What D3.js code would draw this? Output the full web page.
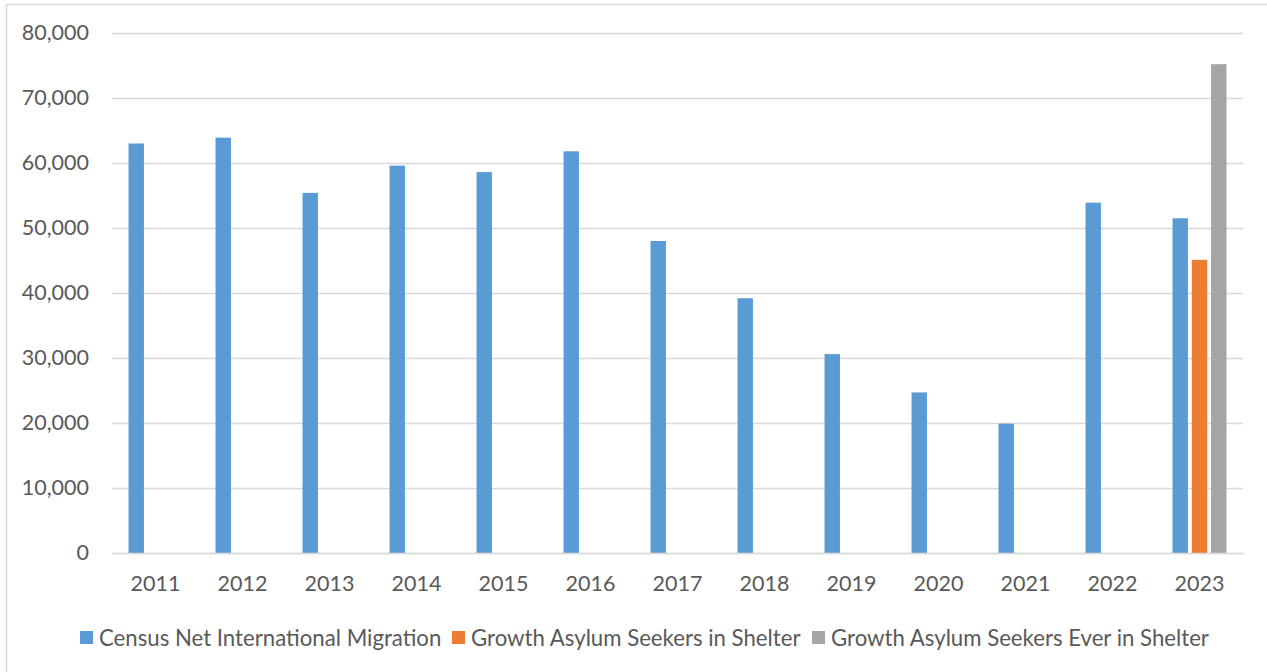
<!DOCTYPE html>
<html>
<head>
<meta charset="utf-8">
<script src="https://cdn.jsdelivr.net/npm/d3@7/dist/d3.min.js"></script>
<style>
  html, body { margin: 0; padding: 0; background: #fff; }
  svg { display: block; }
  text { font-family: Lato, "Open Sans", sans-serif; fill: #595959; }
</style>
</head>
<body>
<svg id="chart" width="1267" height="672"></svg>
<script>
// Yearly categories
const years = ["2011","2012","2013","2014","2015","2016","2017","2018","2019","2020","2021","2022","2023"];
// Series names (legend order)
const seriesNames = [
  "Census Net International Migration",
  "Growth Asylum Seekers in Shelter",
  "Growth Asylum Seekers Ever in Shelter"
];
// Series values per year (null = no bar)
const censusNetMigration = [63000, 63900, 55400, 59600, 58600, 61800, 48000, 39200, 30600, 24700, 19900, 53900, 51500];
const shelterGrowth      = [null, null, null, null, null, null, null, null, null, null, null, null, 45100];
const everShelterGrowth  = [null, null, null, null, null, null, null, null, null, null, null, null, 75200];
// Value axis ticks
const yTicks = [0, 10000, 20000, 30000, 40000, 50000, 60000, 70000, 80000];
const colors = ["#5B9BD5", "#ED7D31", "#A5A5A5"];

const seriesValues = [censusNetMigration, shelterGrowth, everShelterGrowth];

const svg = d3.select("#chart");
const W = 1267, H = 672;
const plot = { left: 112, right: 1243, top: 33, bottom: 553 };

// Outer frame
svg.append("rect")
  .attr("x", 6.5).attr("y", 4.5)
  .attr("width", W + 10).attr("height", H + 10)
  .attr("fill", "#fff")
  .attr("stroke", "#d9d9d9").attr("stroke-width", 1.5);

const x0 = d3.scaleBand().domain(years).range([plot.left, plot.right]).paddingInner(0).paddingOuter(0);
const outerGap = x0.bandwidth() * 0.19;
const x1 = d3.scaleBand().domain(d3.range(seriesNames.length))
  .range([outerGap, x0.bandwidth() - outerGap]).paddingInner(0.2).paddingOuter(0);
const y = d3.scaleLinear().domain([0, 80000]).range([plot.bottom, plot.top]);

// Horizontal gridlines
const grid = svg.append("g")
  .attr("transform", `translate(${plot.left},0)`)
  .call(d3.axisLeft(y).tickValues(yTicks).tickSize(-(plot.right - plot.left)).tickFormat(""));
grid.select(".domain").remove();
grid.selectAll("line").attr("stroke", "#d9d9d9").attr("stroke-width", 1.5);

// Y axis labels
const yAxis = svg.append("g")
  .attr("transform", `translate(${plot.left},0)`)
  .call(d3.axisLeft(y).tickValues(yTicks).tickSize(0).tickPadding(23).tickFormat(d3.format(",")));
yAxis.select(".domain").remove();
yAxis.selectAll("text").attr("font-size", 21.5).style("font-family", "Lato, sans-serif").attr("fill", "#595959");

// Bars
const rows = years.map((yr, i) => ({ year: yr, vals: seriesValues.map(s => s[i]) }));
const groups = svg.append("g").selectAll("g").data(rows).join("g")
  .attr("transform", d => `translate(${x0(d.year)},0)`);
groups.selectAll("rect")
  .data(d => d.vals.map((v, k) => ({ k, v })).filter(e => e.v != null))
  .join("rect")
  .attr("x", e => x1(e.k))
  .attr("width", x1.bandwidth())
  .attr("y", e => y(e.v))
  .attr("height", e => y(0) - y(e.v))
  .attr("fill", e => colors[e.k]);

// Category axis
const xAxis = svg.append("g")
  .attr("transform", `translate(0,${plot.bottom})`)
  .call(d3.axisBottom(x0).tickSize(0).tickPadding(23));
xAxis.select(".domain").attr("stroke", "#d9d9d9").attr("stroke-width", 1.5);
xAxis.selectAll("text").attr("font-size", 21.5).style("font-family", "Lato, sans-serif").attr("fill", "#595959");

// Legend
const legendStarts = [80, 452, 812];
const legend = svg.append("g").attr("transform", "translate(0,638)");
const items = legend.selectAll("g").data(seriesNames).join("g")
  .attr("transform", (d, i) => `translate(${legendStarts[i]},0)`);
items.append("rect").attr("x", 0).attr("y", -7).attr("width", 13).attr("height", 13)
  .attr("fill", (d, i) => colors[i]);
items.append("text").attr("x", 19).attr("dy", "0.35em")
  .attr("font-size", 22.2).text(d => d);
</script>
</body>
</html>
